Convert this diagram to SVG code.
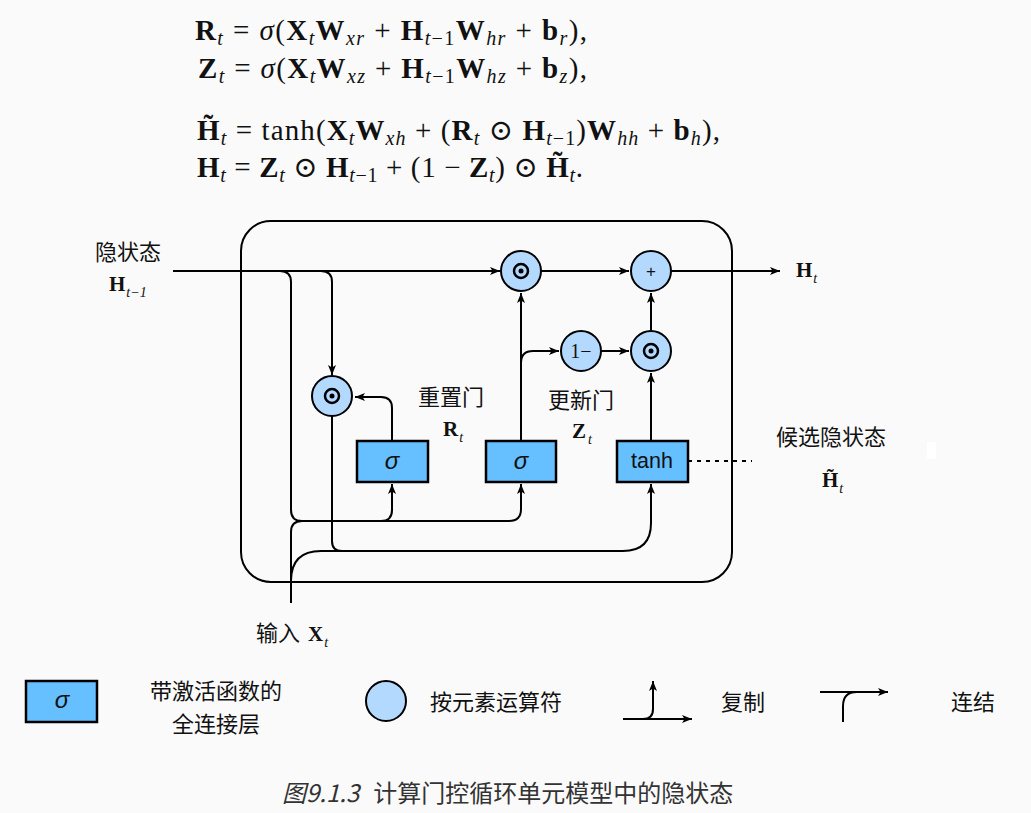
<svg xmlns="http://www.w3.org/2000/svg" width="1031" height="813" viewBox="0 0 1031 813">
<defs>
<marker id="ah" markerUnits="userSpaceOnUse" markerWidth="12" markerHeight="10" refX="10" refY="4" orient="auto">
<path d="M0,0 L10,4 L0,8 L2.5,4 z" fill="#000"/>
</marker>
<style>
.ln{fill:none;stroke:#000;stroke-width:2}
.arr{marker-end:url(#ah)}
.op{fill:#b3d9ff;stroke:#000;stroke-width:2}
.fc{fill:#66bfff;stroke:#000;stroke-width:2.5}
.ring{fill:none;stroke:#000;stroke-width:2.5}
.cjk{font-family:"Noto Sans CJK SC",sans-serif;font-size:22px;fill:#111}
.mb{font-family:"Liberation Serif",serif;font-weight:bold;font-size:21px;fill:#111}
.ms{font-family:"Liberation Serif",serif;font-style:italic;font-size:14px;font-weight:normal}
.eq{font-family:"Liberation Serif","DejaVu Serif",serif;font-size:29px;fill:#111}
.b{font-weight:bold}
.i{font-style:italic}
.s{font-size:20px}
.sig{font-family:"Liberation Sans",sans-serif;font-style:italic;font-size:24px;fill:#111}
.cap{font-family:"Noto Sans CJK SC",sans-serif;font-size:24px;fill:#333}
</style>
</defs>
<rect x="0" y="0" width="1031" height="813" fill="#fafafa"/>
<rect x="927" y="442" width="9" height="17" fill="#ffffff"/>

<g id="equations">
<text class="eq" x="195" y="40" textLength="392" lengthAdjust="spacing"><tspan class="b">R</tspan><tspan class="s i" dy="5">t</tspan><tspan dy="-5"> = </tspan><tspan class="i">σ</tspan>(<tspan class="b">X</tspan><tspan class="s i" dy="5">t</tspan><tspan class="b" dy="-5">W</tspan><tspan class="s i" dy="5">xr</tspan><tspan dy="-5"> + </tspan><tspan class="b">H</tspan><tspan class="s" dy="5"><tspan class="i">t</tspan>−1</tspan><tspan class="b" dy="-5">W</tspan><tspan class="s i" dy="5">hr</tspan><tspan dy="-5"> + </tspan><tspan class="b">b</tspan><tspan class="s i" dy="5">r</tspan><tspan dy="-5">),</tspan></text>
<text class="eq" x="198" y="78" textLength="389" lengthAdjust="spacing"><tspan class="b">Z</tspan><tspan class="s i" dy="5">t</tspan><tspan dy="-5"> = </tspan><tspan class="i">σ</tspan>(<tspan class="b">X</tspan><tspan class="s i" dy="5">t</tspan><tspan class="b" dy="-5">W</tspan><tspan class="s i" dy="5">xz</tspan><tspan dy="-5"> + </tspan><tspan class="b">H</tspan><tspan class="s" dy="5"><tspan class="i">t</tspan>−1</tspan><tspan class="b" dy="-5">W</tspan><tspan class="s i" dy="5">hz</tspan><tspan dy="-5"> + </tspan><tspan class="b">b</tspan><tspan class="s i" dy="5">z</tspan><tspan dy="-5">),</tspan></text>
<text class="eq" x="197" y="140" textLength="523" lengthAdjust="spacing"><tspan class="b">H̃</tspan><tspan class="s i" dy="5">t</tspan><tspan dy="-5"> = tanh(</tspan><tspan class="b">X</tspan><tspan class="s i" dy="5">t</tspan><tspan class="b" dy="-5">W</tspan><tspan class="s i" dy="5">xh</tspan><tspan dy="-5"> + (</tspan><tspan class="b">R</tspan><tspan class="s i" dy="5">t</tspan><tspan dy="-5"> ⊙ </tspan><tspan class="b">H</tspan><tspan class="s" dy="5"><tspan class="i">t</tspan>−1</tspan><tspan dy="-5">)</tspan><tspan class="b">W</tspan><tspan class="s i" dy="5">hh</tspan><tspan dy="-5"> + </tspan><tspan class="b">b</tspan><tspan class="s i" dy="5">h</tspan><tspan dy="-5">),</tspan></text>
<text class="eq" x="197" y="177" textLength="386" lengthAdjust="spacing"><tspan class="b">H</tspan><tspan class="s i" dy="5">t</tspan><tspan dy="-5"> = </tspan><tspan class="b">Z</tspan><tspan class="s i" dy="5">t</tspan><tspan dy="-5"> ⊙ </tspan><tspan class="b">H</tspan><tspan class="s" dy="5"><tspan class="i">t</tspan>−1</tspan><tspan dy="-5"> + (1 − </tspan><tspan class="b">Z</tspan><tspan class="s i" dy="5">t</tspan><tspan dy="-5">) ⊙ </tspan><tspan class="b">H̃</tspan><tspan class="s i" dy="5">t</tspan><tspan dy="-5">.</tspan></text>
</g>

<g id="cell-border">
<rect x="241" y="221" width="491" height="361" rx="30" ry="30" class="ln"/>
</g>

<g id="connectors">
<path class="ln arr" d="M173,271 H500"/>
<path class="ln arr" d="M321,271 Q332,271 332,282 V375"/>
<path class="ln" d="M280,271 Q291,271 291,282 V510 Q291,521 302,521 H381 Q392,521 392,510"/>
<path class="ln arr" d="M392,511 V484"/>
<path class="ln" d="M381,521 H509 Q521,521 521,509"/>
<path class="ln arr" d="M521,510 V484"/>
<path class="ln" d="M291,603 V532 Q291,521 302,521"/>
<path class="ln" d="M291,603 V581 Q291,551 321,551 H623 Q651,551 651,523"/>
<path class="ln arr" d="M651,524 V484"/>
<path class="ln" d="M332,416 V541 Q332,551 342,551 H380"/>
<path class="ln arr" d="M392,441 V408 Q392,397 381,397 H355"/>
<path class="ln arr" d="M521,441 V293"/>
<path class="ln arr" d="M521,363 Q521,351 533,351 H559"/>
<path class="ln arr" d="M601,351 H629"/>
<path class="ln arr" d="M651,441 V373"/>
<path class="ln arr" d="M651,331 V293"/>
<path class="ln arr" d="M541,271 H629"/>
<path class="ln arr" d="M671,271 H780"/>
<path class="ln" d="M688,461 H752" stroke-dasharray="4 5"/>
</g>

<g id="node-mul-top">
<circle cx="521" cy="271" r="20" class="op"/>
<circle cx="521" cy="271" r="7" class="ring"/>
<circle cx="521" cy="271" r="2.5" fill="#000"/>
</g>
<g id="node-plus">
<circle cx="651" cy="271" r="20" class="op"/>
<text x="651" y="277" text-anchor="middle" font-family="Liberation Sans, sans-serif" font-size="17" fill="#111">+</text>
</g>
<g id="node-one-minus">
<circle cx="581" cy="351" r="20" class="op"/>
<text x="581" y="358" text-anchor="middle" font-family="Liberation Serif, serif" font-size="20" fill="#111">1−</text>
</g>
<g id="node-mul-lower">
<circle cx="651" cy="351" r="20" class="op"/>
<circle cx="651" cy="351" r="7" class="ring"/>
<circle cx="651" cy="351" r="2.5" fill="#000"/>
</g>
<g id="node-mul-reset">
<circle cx="332" cy="396" r="20" class="op"/>
<circle cx="332" cy="396" r="7" class="ring"/>
<circle cx="332" cy="396" r="2.5" fill="#000"/>
</g>
<g id="node-reset-gate">
<rect x="357" y="441" width="71" height="41" class="fc"/>
<text x="392" y="469" text-anchor="middle" class="sig">σ</text>
</g>
<g id="node-update-gate">
<rect x="486" y="441" width="70" height="41" class="fc"/>
<text x="521" y="469" text-anchor="middle" class="sig">σ</text>
</g>
<g id="node-tanh">
<rect x="617" y="441" width="71" height="41" class="fc"/>
<text x="652" y="468" text-anchor="middle" font-family="Liberation Sans, sans-serif" font-size="21.5" fill="#111">tanh</text>
</g>

<g id="labels">
<text x="128" y="260" text-anchor="middle" class="cjk">隐状态</text>
<text x="109" y="291" class="mb">H<tspan class="ms" dx="1" dy="6">t−1</tspan></text>
<text x="796" y="277" class="mb">H<tspan class="ms" dx="1" dy="6">t</tspan></text>
<text x="451" y="405" text-anchor="middle" class="cjk">重置门</text>
<text x="443" y="436" class="mb">R<tspan class="ms" dx="1" dy="6">t</tspan></text>
<text x="581" y="408" text-anchor="middle" class="cjk">更新门</text>
<text x="572" y="438" class="mb">Z<tspan class="ms" dx="2" dy="6">t</tspan></text>
<text x="831" y="445" text-anchor="middle" class="cjk">候选隐状态</text>
<text x="822" y="487" class="mb">H̃<tspan class="ms" dx="1" dy="6">t</tspan></text>
<text x="256" y="641" class="cjk">输入</text>
<text x="308" y="641" class="mb">X<tspan class="ms" dx="1" dy="6">t</tspan></text>
</g>

<g id="legend">
<g id="legend-fc">
<rect x="26" y="681" width="71" height="41" class="fc"/>
<text x="62" y="708" text-anchor="middle" class="sig" font-size="21">σ</text>
<text x="216" y="699" text-anchor="middle" class="cjk">带激活函数的</text>
<text x="216" y="732" text-anchor="middle" class="cjk">全连接层</text>
</g>
<g id="legend-op">
<circle cx="386" cy="701" r="20" class="op"/>
<text x="496" y="710" text-anchor="middle" class="cjk">按元素运算符</text>
</g>
<g id="legend-copy">
<path class="ln arr" d="M623,719 H692"/>
<path class="ln arr" d="M643,719 Q653,719 653,709 V681"/>
<text x="743" y="710" text-anchor="middle" class="cjk">复制</text>
</g>
<g id="legend-concat">
<path class="ln arr" d="M820,692 H888"/>
<path class="ln" d="M843,722 V706 Q843,692 857,692"/>
<text x="973" y="710" text-anchor="middle" class="cjk">连结</text>
</g>
</g>

<text x="282" y="802" class="cap"><tspan font-style="italic">图9.1.3</tspan><tspan dx="14">计算门控循环单元模型中的隐状态</tspan></text>
</svg>
